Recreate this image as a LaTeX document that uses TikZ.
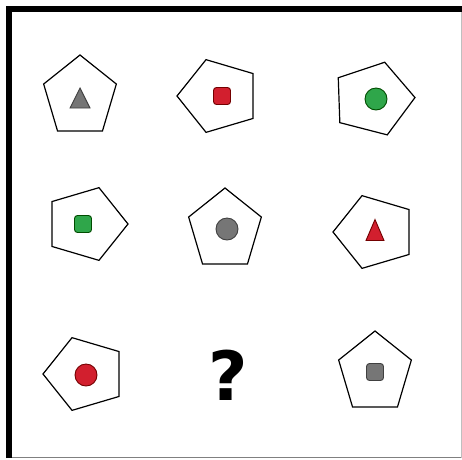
\documentclass[tikz,border=0pt]{standalone}
\usepackage{fontspec}
\usepackage[dvipsnames]{xcolor}
\usepackage{tikz}
\usetikzlibrary{positioning,shapes.geometric}
\newfontfamily\qfont{DejaVu Sans}
\definecolor{fillgray}{HTML}{767676}
\definecolor{fillred}{HTML}{D21F2E}
\definecolor{fillgreen}{HTML}{2FA64A}
\tikzset{
	pent/.style={draw=black, line width=1.2pt, fill=white, regular polygon, regular polygon sides=5, minimum size=84pt, inner sep=0pt},
	squeeze/.style={xscale=0.91},
	gr/.style={fill=fillgray, draw=black!75, line width=0.9pt},
	rd/.style={fill=fillred, draw=red!45!black, line width=0.9pt},
	gn/.style={fill=fillgreen, draw=green!30!black, line width=0.9pt}
}

\begin{document}
\begin{tikzpicture}[x=1pt,y=-1pt]
				\useasboundingbox (0,0) rectangle (462,459);
				\fill[white] (0,0) rectangle (462,459);
				\draw[black!50,line width=1.2pt] (9,457.5) -- (462,457.5);
				\draw[black!25,line width=0.8pt] (461,8) -- (461,458);
				\draw[black,line width=6pt] (9,458) -- (9,8.5) -- (462,8.5);
				\node[pent,squeeze] (p11) at (80,97) {};
				\node[pent,rotate=90,squeeze] (p12) at (219,96) {};
				\node[pent,rotate=-88,squeeze] (p13) at (373,99) {};
				\node[pent,rotate=-90,squeeze] (p21) at (86,224) {};
				\node[pent,squeeze] (p22) at (225,230) {};
				\node[pent,rotate=90,squeeze] (p23) at (375,232) {};
				\node[pent,rotate=90,squeeze] (p31) at (85,374) {};
				\node[pent,squeeze] (p33) at (375,373) {};
				\draw[gr] (70,108) -- (80,88) -- (90,108) -- cycle;
				\draw[rd,rounded corners=3pt] (213.5,87.5) rectangle (230.5,104.5);
				\draw[gn] (376,99) circle (11);
				\draw[gn,rounded corners=3pt] (74.5,215.5) rectangle (91.5,232.5);
				\draw[gr] (227,229) circle (11);
				\draw[rd] (366,240.5) -- (375,219.5) -- (384,240.5) -- cycle;
				\draw[rd] (86,375) circle (11);
				\draw[gr,rounded corners=3pt] (366.5,363.5) rectangle (383.5,380.5);
				\node[inner sep=0pt] (q) at (228,375) {\qfont\bfseries\fontsize{68}{68}\selectfont ?};
			\end{tikzpicture}
\end{document}
